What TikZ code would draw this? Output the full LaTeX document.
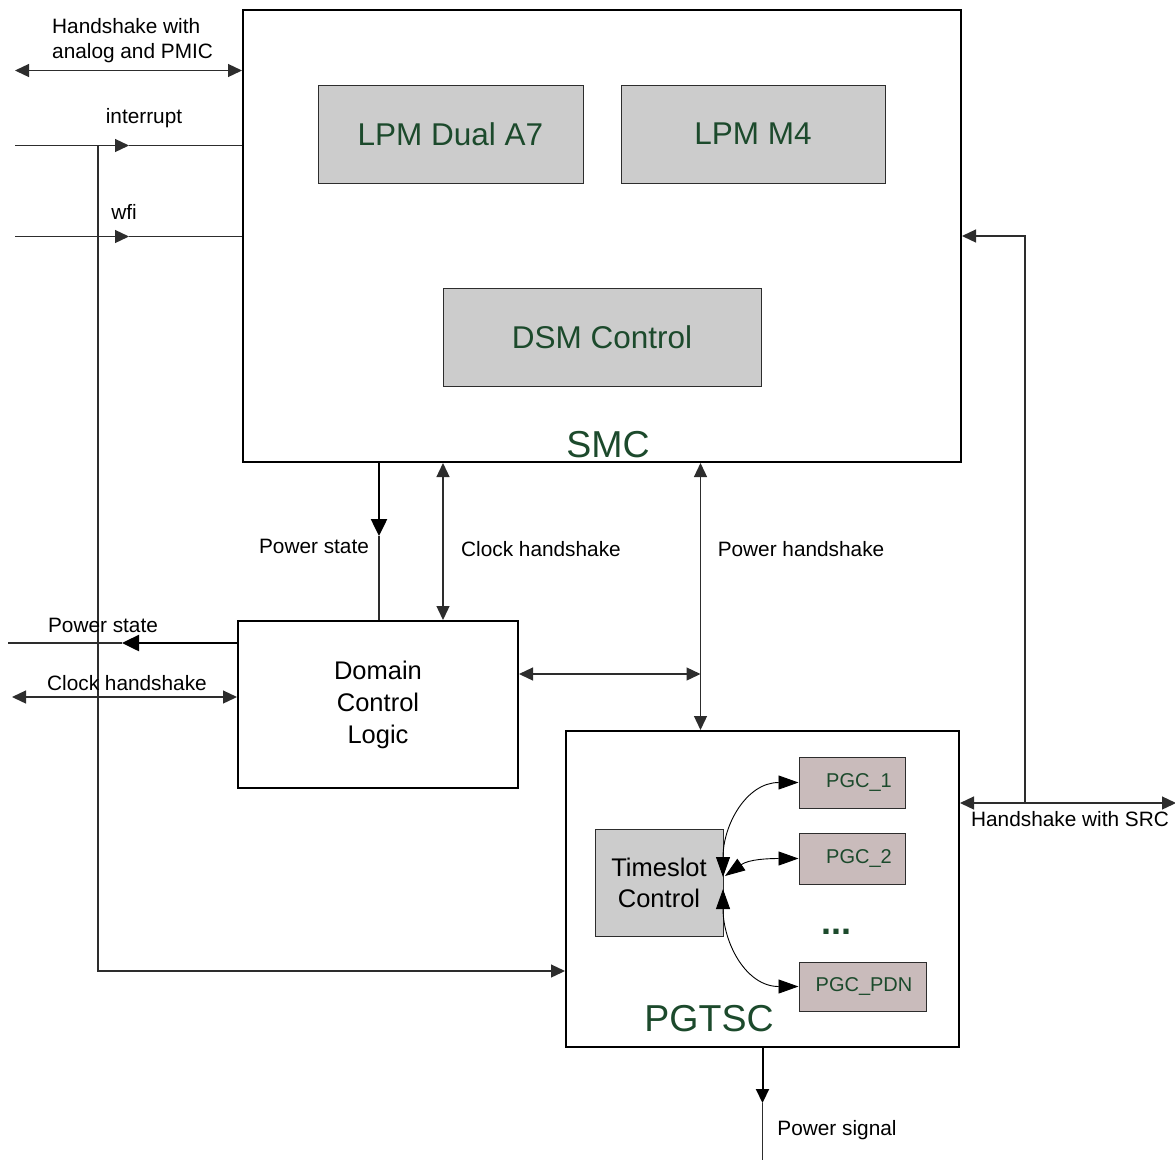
\documentclass[tikz,border=0pt]{standalone}
\usepackage{fontspec}
\setmainfont{Liberation Sans}
\usetikzlibrary{arrows.meta}
\definecolor{txtgreen}{RGB}{28,74,44}
\definecolor{boxgray}{RGB}{204,204,204}
\definecolor{pgcfill}{RGB}{201,187,187}
\definecolor{linegray}{RGB}{45,45,45}
\begin{document}
\begin{tikzpicture}[x=1pt,y=1pt,
  Std/.tip={Triangle[length=14pt,width=13pt]},
  Big/.tip={Triangle[length=17pt,width=16pt]},
  Arc/.tip={Triangle[length=20pt,width=14pt]},
  outerbox/.style={draw=black,line width=2pt,inner sep=0pt,rectangle},
  graybox/.style={draw=linegray,line width=1pt,fill=boxgray,inner sep=0pt,text=txtgreen,
    font=\fontsize{31.5}{36}\selectfont},
  pgcbox/.style={draw=linegray,line width=1pt,fill=pgcfill,inner sep=0pt,text=txtgreen,
    font=\fontsize{20}{24}\selectfont},
  lbl/.style={inner sep=0pt,font=\fontsize{20.8}{25}\selectfont,text height=15pt,text depth=0pt},
  biglbl/.style={inner sep=0pt,text=txtgreen,font=\fontsize{37.5}{42}\selectfont,text height=27pt,text depth=0pt},
  conn/.style={draw=linegray,line width=1.3pt},
  thickc/.style={draw=black,line width=2.5pt}
]
\useasboundingbox (0,0) rectangle (1175,-1160);

% ---- main boxes ----
\node[outerbox,minimum width=718pt,minimum height=452pt] (smc) at (602,-236) {};
\node[graybox,minimum width=265pt,minimum height=98pt] (lpma7) at (450.5,-134) {LPM Dual A7};
\node[graybox,minimum width=264pt,minimum height=98pt] (lpmm4) at (753,-134) {LPM M4};
\node[graybox,minimum width=318pt,minimum height=98pt] (dsm) at (602,-337) {DSM Control};
\node[biglbl] (smclbl) at (608,-444) {SMC};

\node[outerbox,minimum width=280pt,minimum height=167pt,align=center,
      font=\fontsize{25.5}{32}\selectfont] (dcl) at (378,-704.5) {Domain\\Control\\Logic};

\node[outerbox,minimum width=393pt,minimum height=316pt] (pgtsc) at (762.5,-889) {};
\node[graybox,minimum width=128pt,minimum height=107pt,text=black,align=center,
      font=\fontsize{25.5}{31}\selectfont] (ts) at (659,-882.5) {Timeslot\\Control};
\node[pgcbox,minimum width=106pt,minimum height=51pt] (pgc1) at (852,-782.5) {\hspace*{14pt}PGC\_1};
\node[pgcbox,minimum width=106pt,minimum height=51pt] (pgc2) at (852,-858.5) {\hspace*{14pt}PGC\_2};
\node[pgcbox,minimum width=127pt,minimum height=49pt] (pgcpdn) at (862.5,-986.5) {\hspace*{3pt}PGC\_PDN};
\node[inner sep=0pt,anchor=base,text=txtgreen,font=\fontsize{36}{40}\selectfont\bfseries] (dots) at (836,-934) {...};
\node[biglbl] (pgtsclbl) at (709,-1018) {PGTSC};

% ---- left inputs to SMC ----
\coordinate (hsL) at (15,-70.5);
\draw[conn,Std-Std] (hsL) -- (smc.west |- hsL);
\node[inner sep=0pt,anchor=north west,align=left,font=\fontsize{20.8}{25.5}\selectfont] (hslbl) at (52,-18) {Handshake with\\analog and PMIC};

\coordinate (irL) at (15,-145.5);
\coordinate (irM) at (129,-145.5);
\draw[conn,-Std] (irL) -- (irM);
\draw[conn] (irM) -- (smc.west |- irM);
\node[lbl] (irlbl) at (144,-116) {interrupt};

\coordinate (wfL) at (15,-236.5);
\coordinate (wfM) at (129,-236.5);
\draw[conn,-Std] (wfL) -- (wfM);
\draw[conn] (wfM) -- (smc.west |- wfM);
\node[lbl] (wflbl) at (124,-212) {wfi};

% interrupt branch to PGTSC
\coordinate (jn) at (98,-145.5);
\coordinate (jb) at (98,-971);
\draw[conn,-Std] (jn) -- (jb) -- (pgtsc.west |- jb);

% ---- SMC <-> DCL ----
\coordinate (psx) at (379,-536);
\draw[thickc,-Big] (smc.south -| psx) -- (psx);
\draw[conn] (psx) -- (dcl.north -| psx);
\node[lbl] (pslbl) at (314,-546) {Power state};

\coordinate (chx) at (443,-600);
\draw[conn,Std-Std] (smc.south -| chx) -- (dcl.north -| chx);
\node[lbl] (chlbl) at (541,-549) {Clock handshake};

% ---- Power handshake ----
\coordinate (phx) at (700.5,-674);
\draw[conn,Std-Std] (smc.south -| phx) -- (pgtsc.north -| phx);
\node[lbl] (phlbl) at (801,-549) {Power handshake};
\draw[conn,Std-Std] (dcl.east |- phx) -- (phx);

% ---- DCL left outputs ----
\coordinate (psL) at (8,-643);
\coordinate (psM) at (122,-643);
\draw[thickc,-Big] (dcl.west |- psM) -- (psM);
\draw[conn] (psM) -- (psL);
\node[lbl] (ps2lbl) at (103,-625) {Power state};

\coordinate (chL) at (12,-697);
\draw[conn,Std-Std] (chL) -- (dcl.west |- chL);
\node[lbl] (ch2lbl) at (127,-683) {Clock handshake};

% ---- Handshake with SRC ----
\coordinate (srcR) at (1176,-803);
\draw[conn,Std-Std] (pgtsc.east |- srcR) -- (srcR);
\node[lbl] (srclbl) at (1070,-819) {Handshake with SRC};
\coordinate (lpB) at (1025,-803);
\coordinate (lpT) at (1025,-236);
\draw[conn,-Std] (lpB) -- (lpT) -- (smc.east |- lpT);

% ---- Power signal ----
\coordinate (psg) at (762.5,-1103);
\coordinate (psgB) at (762.5,-1160);
\draw[draw=black,line width=2pt,-Std] (pgtsc.south -| psg) -- (psg);
\draw[conn] (psg) -- (psgB);
\node[lbl] (psglbl) at (837,-1128) {Power signal};

% ---- Timeslot arcs ----
\coordinate (t1) at (723,-877);
\coordinate (t2) at (725,-876);
\coordinate (t3) at (723,-889);
\draw[draw=black,line width=0.9pt,Arc-Arc] (t1) to[out=90,in=180,looseness=1.1] (pgc1.west);
\draw[draw=black,line width=0.9pt,Arc-Arc] (t2) to[out=35,in=180] (pgc2.west);
\draw[draw=black,line width=0.9pt,Arc-Arc] (t3) to[out=-90,in=180,looseness=1.1] (pgcpdn.west);
\end{tikzpicture}
\end{document}
